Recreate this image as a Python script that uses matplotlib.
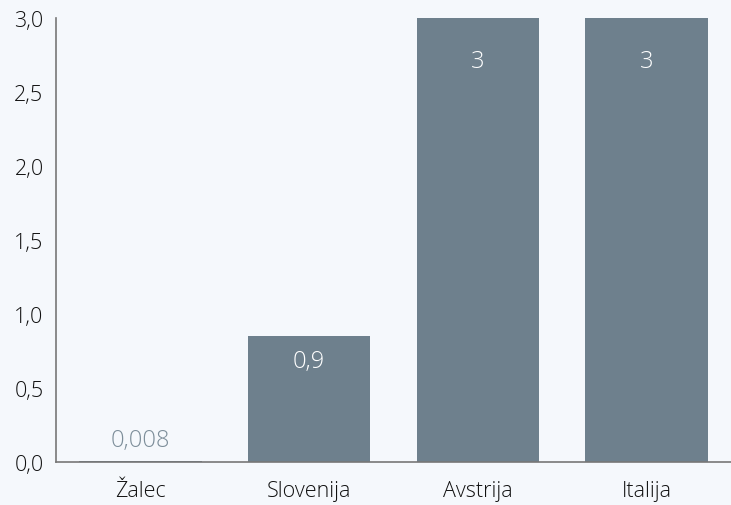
import matplotlib
matplotlib.use("Agg")
import matplotlib.pyplot as plt
from matplotlib.ticker import FixedLocator, FuncFormatter

categories = ["Žalec", "Slovenija", "Avstrija", "Italija"]
values = [0.008, 0.85, 3.0, 3.0]
value_labels = ["0,008", "0,9", "3", "3"]
yticks = [0.0, 0.5, 1.0, 1.5, 2.0, 2.5, 3.0]

bar_color = "#6e808d"
bg = "#f5f8fc"

plt.rcParams['font.family'] = ['Open Sans', 'DejaVu Sans']
plt.rcParams['font.weight'] = 'light'

fig = plt.figure(figsize=(7.31, 5.06), dpi=100, facecolor=bg)
ax = fig.add_axes([56/731, 43/506, 1 - 56/731, (463-19)/506])
ax.set_facecolor(bg)

x = list(range(len(categories)))
bars = ax.bar(x, values, width=0.726, color=bar_color)

ax.set_xlim(-0.5, 3.5)
ax.set_ylim(0, 3.0)
ax.yaxis.set_major_locator(FixedLocator(yticks))
ax.yaxis.set_major_formatter(FuncFormatter(lambda v, p: f"{v:.1f}".replace(".", ",")))
ax.set_xticks(x)
ax.set_xticklabels(categories)
ax.tick_params(axis='both', length=0, labelsize=15.5, colors="#111111")
ax.tick_params(axis='y', pad=9)
ax.tick_params(axis='x', pad=13)

for s in ["top", "right"]:
    ax.spines[s].set_visible(False)
for s in ["left", "bottom"]:
    ax.spines[s].set_color("#777777")
    ax.spines[s].set_linewidth(1.2)

for xi, v, lab in zip(x, values, value_labels):
    if v < 0.2:
        ax.annotate(lab, (xi, v), xytext=(0, 6), textcoords="offset points",
                    ha="center", va="bottom", fontsize=17, color="#7d8e9a")
    else:
        off = -31 if v > 2 else -18
        ax.annotate(lab, (xi, v), xytext=(0, off), textcoords="offset points",
                    ha="center", va="center", fontsize=17, color="white")

fig.savefig("out.png", dpi=100, facecolor=bg)
